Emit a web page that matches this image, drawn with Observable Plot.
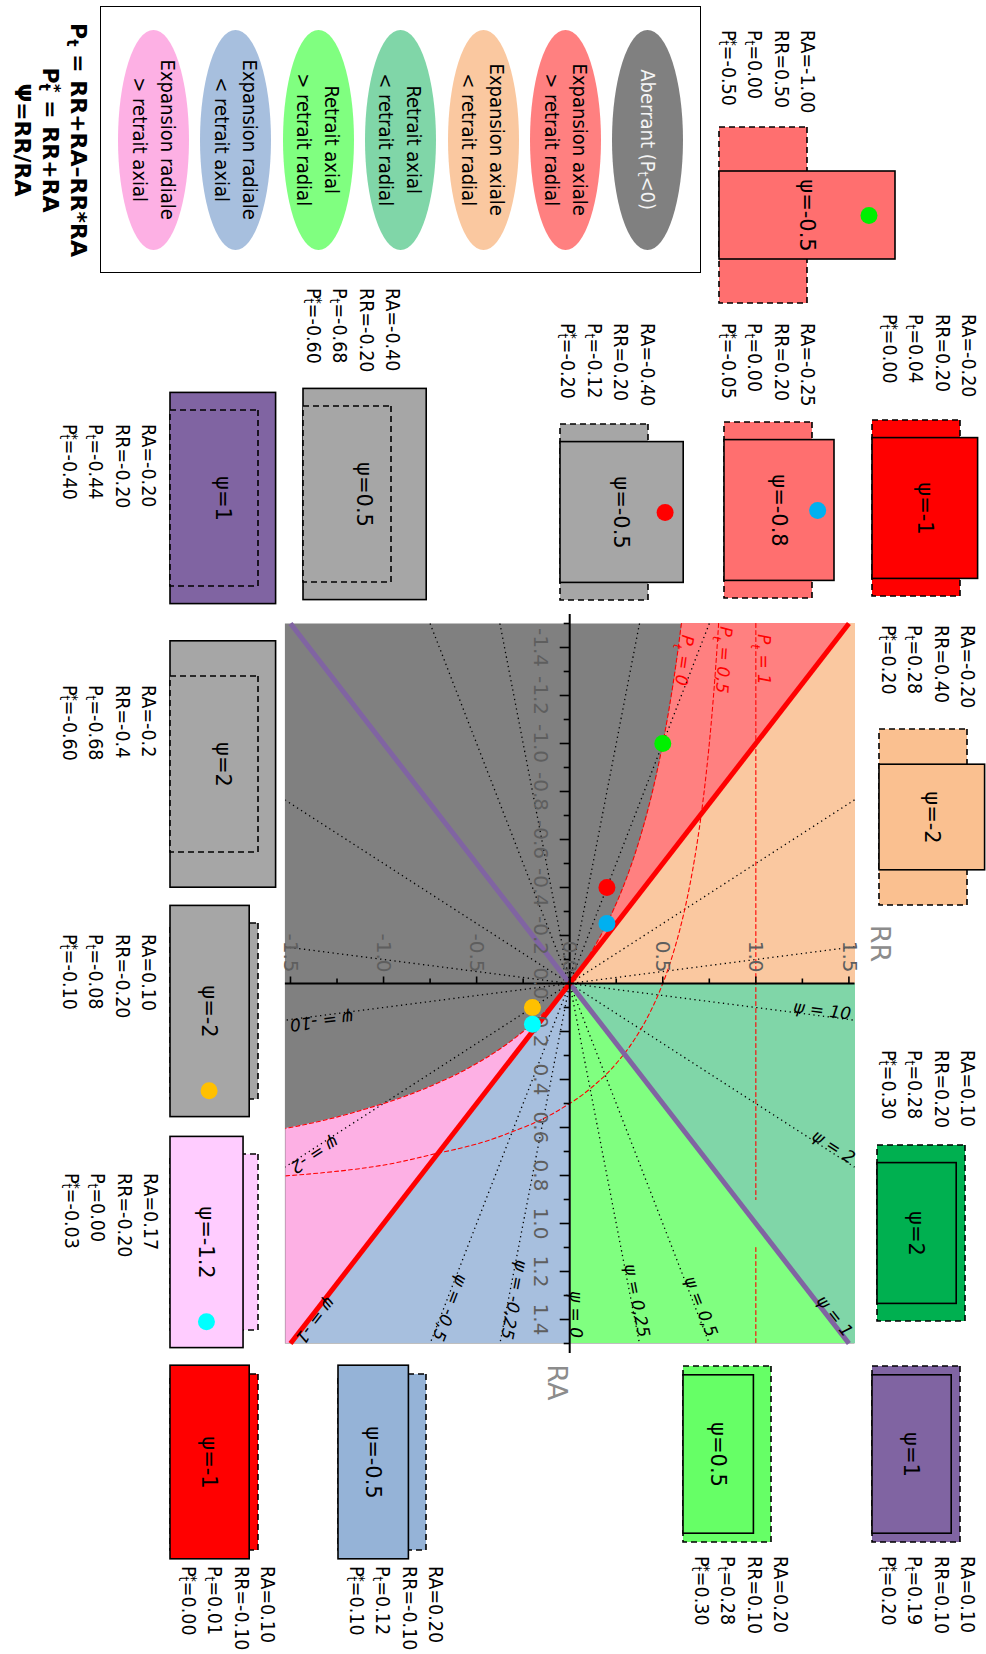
<!DOCTYPE html>
<html><head><meta charset="utf-8">
<script src="https://cdn.jsdelivr.net/npm/d3@7"></script>
<script src="https://cdn.jsdelivr.net/npm/@observablehq/plot@0.6"></script>
<style>
html,body{margin:0;padding:0;background:#fff;width:986px;height:1654px;overflow:hidden;}
#wrap{position:absolute;left:986px;top:0;width:1654px;height:986px;transform-origin:0 0;transform:rotate(90deg);}
.cond{font-family:"DejaVu Sans Condensed","DejaVu Sans",sans-serif;font-stretch:condensed;}
.info{position:absolute;font-size:19.5px;line-height:26.5px;white-space:nowrap;color:#000;}
.info sub,.leg sub,.form sub{font-size:70%;line-height:0;vertical-align:-0.25em;}
.info sup,.form sup{font-size:75%;line-height:0;vertical-align:0.35em;margin-left:-0.42em;}
.leg{position:absolute;border-radius:50%;display:flex;align-items:center;justify-content:center;text-align:center;font-size:20px;line-height:28px;white-space:nowrap;}
#legbox{position:absolute;border:1.5px solid #000;box-sizing:border-box;}
.form{position:absolute;font-family:"DejaVu Sans",sans-serif;font-weight:bold;font-size:22px;line-height:28px;text-align:center;white-space:nowrap;}
</style></head>
<body><div id="wrap"></div>
<script>
// ---------------- data ----------------
// iso-psi lines (psi = RR/RA)
const psiValues = [10, 2, 1, 0.5, 0.25, 0, -0.25, -0.5, -1, -2, -10];
const psiLabels = ["ψ = 10","ψ = 2","ψ = 1","ψ = 0,5","ψ = 0,25","ψ = 0","ψ = -0,25","ψ = -0,5","ψ = -1","ψ = -2","ψ = -10"];
const psiDotted = [10, 2, 0.5, 0.25, -0.25, -0.5, -2, -10];
// iso-Pt curves (Pt = RR+RA-RR*RA)
const ptLevels = [0, 0.5, 1];
const ptLabels = ["P_t = 0", "P_t = 0,5", "P_t = 1"];
// axes
const rrTicks = [-1.5, -1, -0.5, 0, 0.5, 1, 1.5];
const rrTickLabels = ["-1.5","-1.0","-0.5","0.0","0.5","1.0","1.5"];
const rrMinorTicks = [-1.25, -0.75, -0.25, 0.25, 0.75, 1.25];
const raTicks = [-1.4,-1.2,-1,-0.8,-0.6,-0.4,-0.2,0,0.2,0.4,0.6,0.8,1,1.2,1.4];
const raTickLabels = ["-1.4","-1.2","-1.0","-0.8","-0.6","-0.4","-0.2","0.0","0.2","0.4","0.6","0.8","1.0","1.2","1.4"];
const raMinorTicks = [-1.5,-1.3,-1.1,-0.9,-0.7,-0.5,-0.3,-0.1,0.1,0.3,0.5,0.7,0.9,1.1,1.3,1.5];
// regions and legend
const regionKeys = ["aberrant","expAxGt","expAxLt","retAxLt","retAxGt","expRadLt","expRadGt"];
const regionColors = ["#808080","#FF8080","#FAC8A0","#80D6A8","#80FF80","#A7BFDE","#FDB0E4"];
const legendLabels = ["Aberrant (P_t<0)","Expansion axiale\n> retrait radial","Expansion axiale\n< retrait radial","Retrait axial\n< retrait radial","Retrait axial\n> retrait radial","Expansion radiale\n< retrait axial","Expansion radiale\n> retrait axial"];
const legendTextColors = ["#f4f4f4","#000","#000","#000","#000","#000","#000"];
const formulas = ["P_t = RR+RA–RR*RA","P_t* = RR+RA","Ψ=RR/RA"];
// example shapes
const glyphRA = [-1.00, -0.20, -0.25, -0.40, -0.20, 0.10, 0.10, 0.20, -0.20, -0.40, -0.20, 0.10, 0.17, 0.10, 0.20];
const glyphRR = [0.50, 0.20, 0.20, 0.20, 0.40, 0.20, 0.10, 0.10, -0.20, -0.20, -0.40, -0.20, -0.20, -0.10, -0.10];
const glyphRAText = ["-1.00","-0.20","-0.25","-0.40","-0.20","0.10","0.10","0.20","-0.20","-0.40","-0.2","0.10","0.17","0.10","0.20"];
const glyphRRText = ["0.50","0.20","0.20","0.20","0.40","0.20","0.10","0.10","-0.20","-0.20","-0.4","-0.20","-0.20","-0.10","-0.10"];
const glyphPtText = ["0.00","0.04","0.00","-0.12","0.28","0.28","0.19","0.28","-0.44","-0.68","-0.68","-0.08","0.00","0.01","0.12"];
const glyphPtsText = ["-0.50","0.00","-0.05","-0.20","0.20","0.30","0.20","0.30","-0.40","-0.60","-0.60","-0.10","-0.03","0.00","0.10"];
const glyphPsiText = ["ψ=-0.5","ψ=-1","ψ=-0.8","ψ=-0.5","ψ=-2","ψ=2","ψ=1","ψ=0.5","ψ=1","ψ=0.5","ψ=2","ψ=-2","ψ=-1.2","ψ=-1","ψ=-0.5"];
const glyphFill = ["#FF6F6F","#FF0000","#FF6F6F","#A6A6A6","#FAC090","#00B050","#8064A2","#66FF66","#8064A2","#A6A6A6","#A6A6A6","#A6A6A6","#FFCCFF","#FF0000","#95B3D7"];
const glyphDot = ["#00F000",null,"#00B0F0","#FF0000",null,null,null,null,null,null,null,"#FFC000","#00FFFF",null,null];

// ---------------- layout (unrotated frame, px) ----------------
const W = 1654, H = 986;
const mL = 623, mR = 311, mT = 131, mB = 285.4;
const RAmax = 1.5, RRmax = 1.53;
const kx = (W - mL - mR) / (2 * RAmax);
const ky = (H - mT - mB) / (2 * RRmax);
// [centre u, bottom v, text left u, first text line v, dot dx, dot dy]
const glyphLayout = [
  [215.2, 266.7, 30, 179, 0, 1.71],
  [507.7, 113.7, 314, 18],
  [510, 262, 323, 179, 0, 1.07],
  [512, 426, 323, 339.3, 0, 1.2],
  [817.3, 107, 625, 19],
  [1232.7, 109.3, 1050, 19],
  [1453.7, 114, 1556, 19],
  [1453.7, 303, 1556, 206],
  [498, 816, 424, 838],
  [494, 683.3, 288, 594],
  [763.5, 816, 685, 838],
  [1011, 816, 934, 838, 0.45, 0.45],
  [1241.5, 816, 1173, 836, 0.45, 0.42],
  [1462, 816, 1566, 719],
  [1462, 648.3, 1566, 551]
];
const legendBox = {left: 6, top: 285, width: 267, height: 601};
const legendCentresV = [338.2, 420.3, 502.9, 585.5, 667.6, 750.2, 832.3];

// ---------------- helpers ----------------
const NS = "http://www.w3.org/2000/svg";
function subscriptify(root) {
  const els = [...root.querySelectorAll("text, tspan")];
  for (const el of els) {
    for (const node of [...el.childNodes]) {
      if (node.nodeType !== 3 || !node.nodeValue.includes("_t")) continue;
      for (const p of node.nodeValue.split(/(_t)/)) {
        if (p === "_t") {
          const t = document.createElementNS(NS, "tspan");
          t.setAttribute("baseline-shift", "sub");
          t.setAttribute("font-size", "70%");
          t.textContent = "t";
          el.insertBefore(t, node);
        } else if (p) el.insertBefore(document.createTextNode(p), node);
      }
      el.removeChild(node);
    }
  }
}
const htmlText = s => s.replace(/_t\*/g, "P_T").replace(/_t/g, "<sub>t</sub>").replace(/P_T/g, "<sub>t</sub><sup>*</sup>").replace(/\n/g, "<br>");

const ptCurve = (c, ra) => { const v = (c - ra) / (1 - ra); return Number.isFinite(v) ? v : NaN; };
const ext = p => Math.min(RAmax, RRmax / Math.abs(p));
const psiAngle = p => Math.atan2(-p * ky, kx) * 180 / Math.PI;
const ptLabelRA = -1.35;
const ptAngle = c => Math.atan2(-((c - 1) / ((1 - ptLabelRA) ** 2)) * ky, kx) * 180 / Math.PI;

const BIG = 5;
const grid = d3.range(-15, 16).map(i => i / 10);
const neg = grid.filter(r => r <= 0), pos = grid.filter(r => r >= 0);
const regionData = [
  ...neg.map(ra => ({k: "expAxGt", ra, lo: ptCurve(0, ra), hi: -ra})),
  ...neg.map(ra => ({k: "expAxLt", ra, lo: -ra, hi: BIG})),
  ...pos.map(ra => ({k: "retAxLt", ra, lo: ra, hi: BIG})),
  ...pos.map(ra => ({k: "retAxGt", ra, lo: 0, hi: ra})),
  ...pos.map(ra => ({k: "expRadLt", ra, lo: -ra, hi: 0})),
  ...pos.map(ra => ({k: "expRadGt", ra, lo: ra < 1 ? ptCurve(0, ra) : -BIG, hi: -ra}))
];
const ptData = ptLevels.flatMap(c => grid.map(ra => ({c, ra, rr: ptCurve(c, ra)})));
const dotData = glyphRA.map((ra, i) => ({ra, rr: glyphRR[i], c: glyphDot[i]})).filter(d => d.c);

const font = "DejaVu Sans";
const wrap = document.getElementById("wrap");

// ---------------- main diagram ----------------
const main = Plot.plot({
  width: W, height: H,
  marginLeft: mL, marginRight: mR, marginTop: mT, marginBottom: mB,
  x: {domain: [-RAmax, RAmax], axis: null},
  y: {domain: [-RRmax, RRmax], axis: null},
  color: {type: "identity"},
  style: {fontFamily: font, background: "transparent", overflow: "visible"},
  marks: [
    Plot.frame({fill: regionColors[0], stroke: null}),
    ...regionKeys.slice(1).map((k, j) =>
      Plot.areaY(regionData.filter(d => d.k === k), {x: "ra", y1: "lo", y2: "hi", fill: regionColors[j + 1], curve: "monotone-x", clip: true})),
    Plot.link(psiDotted, {x1: p => -ext(p), y1: p => -p * ext(p), x2: p => ext(p), y2: p => p * ext(p), stroke: "black", strokeWidth: 1.3, strokeDasharray: "1.3,3.5", clip: true}),
    Plot.line(ptData, {x: "ra", y: "rr", z: "c", stroke: "#FF0000", strokeWidth: 1.1, strokeDasharray: "4,3", curve: "monotone-x", clip: true}),
    Plot.link([1, -1], {x1: -RAmax, y1: p => -RAmax * p, x2: RAmax, y2: p => RAmax * p, stroke: p => p === 1 ? "#8064A2" : "#FF0000", strokeWidth: 5}),
    // axes
    Plot.link([0], {x1: 0, x2: 0, y1: -RRmax, y2: RRmax, stroke: "black", strokeWidth: 2}),
    Plot.link([0], {x1: -1.54, x2: 1.54, y1: 0, y2: 0, stroke: "black", strokeWidth: 2}),
    Plot.link(rrTicks, {x1: 0, x2: -7 / kx, y1: d => d, y2: d => d, stroke: "black", strokeWidth: 1.6}),
    Plot.link(rrMinorTicks, {x1: 0, x2: -5 / kx, y1: d => d, y2: d => d, stroke: "black", strokeWidth: 1.6}),
    Plot.link(raTicks, {x1: d => d, x2: d => d, y1: 0, y2: -10 / ky, stroke: "black", strokeWidth: 1.6}),
    Plot.link(raMinorTicks, {x1: d => d, x2: d => d, y1: 0, y2: -6 / ky, stroke: "black", strokeWidth: 1.6}),
    Plot.text(rrTicks, {x: 0, y: d => d, text: (d, i) => rrTickLabels[i], dx: -11, textAnchor: "end", fontSize: 20, fill: "#5e5e5e", fontFamily: font}),
    Plot.text(raTicks, {x: d => d, y: 0, text: (d, i) => raTickLabels[i], dy: 29, fontSize: 20, fill: "#5e5e5e", fontFamily: font}),
    // labels
    Plot.text(psiValues, {x: p => 0.985 * ext(p), y: p => 0.985 * p * ext(p), text: (p, i) => psiLabels[i], rotate: p => psiAngle(p), textAnchor: "end", lineAnchor: "bottom", fontSize: 17, fontStyle: "italic", fill: "black", fontFamily: font}),
    Plot.text(ptLevels, {x: ptLabelRA, y: c => ptCurve(c, ptLabelRA), text: (c, i) => ptLabels[i], rotate: c => ptAngle(c), lineAnchor: "bottom", dy: -2, fontSize: 17, fontStyle: "italic", fill: "#FF0000", fontFamily: font}),
    Plot.dot(dotData, {x: "ra", y: "rr", r: 8.5, fill: "c", stroke: null}),
    Plot.text(["RR"], {frameAnchor: "top", text: d => d, dx: -40, dy: -36, fontSize: 27, fill: "#8c8c8c", fontFamily: font}),
    Plot.text(["RA"], {frameAnchor: "right", text: d => d, dx: 57, dy: 13, fontSize: 27, fill: "#8c8c8c", fontFamily: font})
  ]
});
subscriptify(main);
main.style.position = "absolute";
main.style.left = "0px";
main.style.top = "0px";
wrap.appendChild(main);

// ---------------- example shapes ----------------
const GW = 270, GH = 200, UX = 176, UY = 88;
glyphRA.forEach((ra, i) => {
  const rr = glyphRR[i];
  const [uc, vb, tu, tv, dxp, dyp] = glyphLayout[i];
  const dashed = {x1: -0.5, x2: 0.5, y1: 0, y2: 1};
  const solid = {x1: -(1 - rr) / 2, x2: (1 - rr) / 2, y1: 0, y2: 1 - ra};
  const dashedMark = Plot.rect([dashed], {x1: "x1", x2: "x2", y1: "y1", y2: "y2", fill: glyphFill[i], stroke: "black", strokeWidth: 1.6, strokeDasharray: "6,4"});
  const solidMark = Plot.rect([solid], {x1: "x1", x2: "x2", y1: "y1", y2: "y2", fill: glyphFill[i], stroke: "black", strokeWidth: 1.6});
  const contains = (1 - rr) >= 1 && (1 - ra) >= 1;
  const marks = contains ? [solidMark, dashedMark] : [dashedMark, solidMark];
  if (glyphDot[i]) marks.push(Plot.dot([{x: dxp, y: dyp}], {x: "x", y: "y", r: 8.5, fill: glyphDot[i], stroke: null}));
  marks.push(Plot.text([glyphPsiText[i]], {x: 0, y: (1 - ra) / 2, text: d => d, fontSize: 21, fill: "black", fontFamily: font}));
  const g = Plot.plot({
    width: GW, height: GH, margin: 0,
    x: {domain: [-GW / 2 / UX, GW / 2 / UX], axis: null},
    y: {domain: [0, GH / UY], axis: null},
    style: {background: "transparent", overflow: "visible", fontFamily: font},
    marks
  });
  g.style.position = "absolute";
  g.style.left = (uc - GW / 2) + "px";
  g.style.top = (vb - GH) + "px";
  wrap.appendChild(g);

  const t = document.createElement("div");
  t.className = "info cond";
  t.style.left = tu + "px";
  t.style.top = (tv - 13.25) + "px";
  t.innerHTML = ["RA=" + glyphRAText[i], "RR=" + glyphRRText[i], "P_t=" + glyphPtText[i], "P_t*=" + glyphPtsText[i]].map(htmlText).join("<br>");
  wrap.appendChild(t);
});

// ---------------- legend ----------------
const box = document.createElement("div");
box.id = "legbox";
Object.assign(box.style, {left: legendBox.left + "px", top: legendBox.top + "px", width: legendBox.width + "px", height: legendBox.height + "px"});
wrap.appendChild(box);
legendLabels.forEach((lab, i) => {
  const e = document.createElement("div");
  e.className = "leg cond";
  Object.assign(e.style, {left: "29.7px", top: (legendCentresV[i] - 35.5) + "px", width: "220px", height: "71px", background: regionColors[i], color: legendTextColors[i]});
  e.innerHTML = "<span>" + htmlText(lab) + "</span>";
  wrap.appendChild(e);
});
const f = document.createElement("div");
f.className = "form";
Object.assign(f.style, {left: "0px", width: "280px", top: (908 - 14) + "px"});
f.innerHTML = formulas.map(htmlText).join("<br>");
wrap.appendChild(f);
</script>
</body></html>
